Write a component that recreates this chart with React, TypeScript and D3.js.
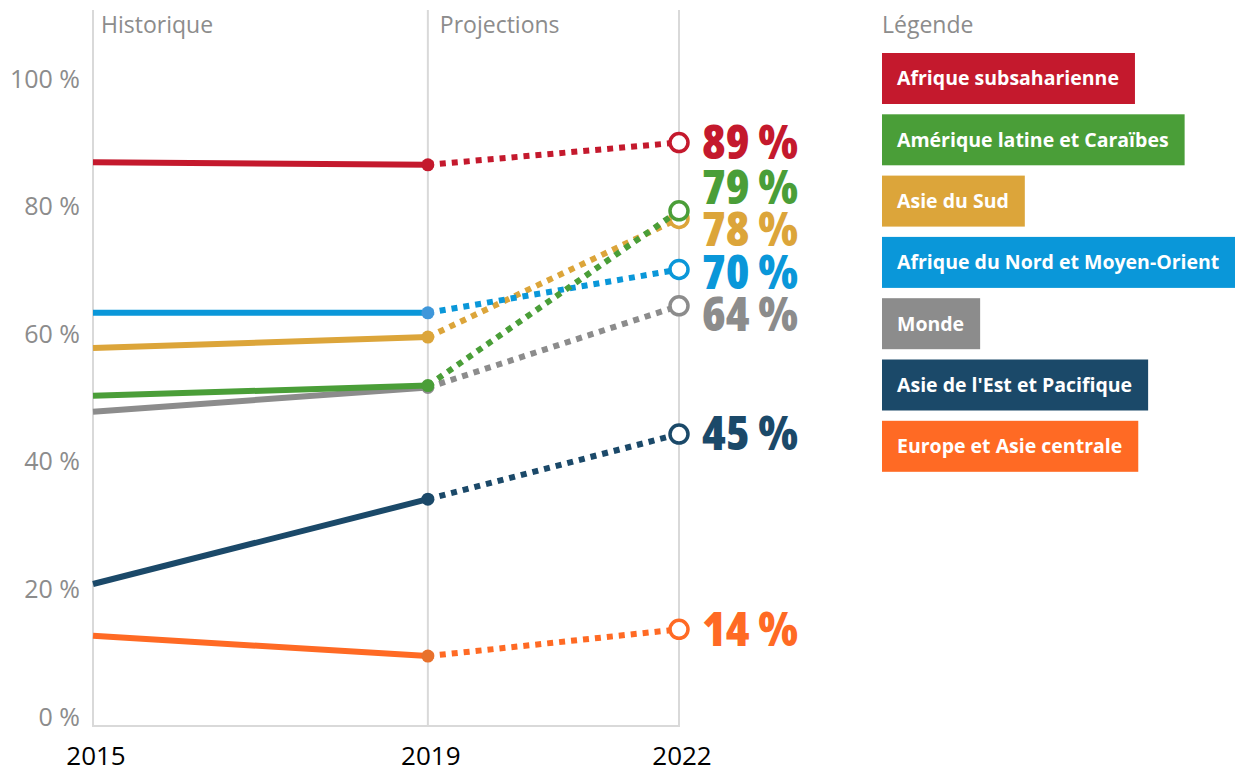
import React, { useRef, useEffect } from 'react';
import * as d3 from 'd3';

// regions, in legend order
const regions = [
  "Afrique subsaharienne",
  "Amérique latine et Caraïbes",
  "Asie du Sud",
  "Afrique du Nord et Moyen-Orient",
  "Monde",
  "Asie de l'Est et Pacifique",
  "Europe et Asie centrale",
];
const colors = ["#c4192d", "#4a9e38", "#dca53a", "#0a97d9", "#8c8c8c", "#1b4969", "#ff6a24"];
const markerColors = ["#c4192d", "#4a9e38", "#dca53a", "#3f97da", "#8c8c8c", "#1b4969", "#e8712c"];

const years = [2015, 2019, 2022];
// historical (2015, 2019) and projected (2022) values, in %
const values2015 = [87.1, 50.5, 58.0, 63.5, 48.0, 21.0, 12.9];
const values2019 = [86.7, 52.1, 59.7, 63.5, 51.8, 34.3, 9.7];
const values2022 = [90.2, 79.5, 78.3, 70.3, 64.6, 44.5, 13.9];
const labels2022 = ["89 %", "79 %", "78 %", "70 %", "64 %", "45 %", "14 %"];

const yTicks = [0, 20, 40, 60, 80, 100];
const periods = ["Historique", "Projections"];

// drawing order (bottom first)
const drawOrder = [4, 2, 3, 1, 0, 5, 6];

const condensed = "'Open Sans', 'Liberation Sans Narrow', 'DejaVu Sans Condensed', sans-serif";
const sans = "'Open Sans', 'Noto Sans', sans-serif";

export default function App() {
  const svgRef = useRef<SVGSVGElement>(null);

  useEffect(() => {
    const width = 1235;
    const height = 769;
    const svg = d3.select(svgRef.current!);
    svg.selectAll("*").remove();

    const x = d3.scaleLinear().domain([2015, 2022]).range([93, 679]);
    const y = d3.scaleLinear().domain([0, 100]).range([718, 80]);

    // grid / frame
    const grid = svg.append("g").attr("stroke", "#d9d9d9").attr("stroke-width", 2);
    grid.selectAll("line.v")
      .data(years)
      .join("line")
      .attr("x1", d => x(d)).attr("x2", d => x(d))
      .attr("y1", 10).attr("y2", 726);
    grid.append("line")
      .attr("x1", x(2015) - 1).attr("x2", x(2022) + 1)
      .attr("y1", 726).attr("y2", 726);

    // period labels
    svg.append("g")
      .selectAll("text")
      .data(periods)
      .join("text")
      .attr("x", (d, i) => x(years[i]) + (i === 0 ? 8 : 12))
      .attr("y", 33)
      .attr("font-family", sans)
      .attr("font-size", 23)
      .attr("fill", "#8c8c8c")
      .text(d => d);

    // y tick labels
    svg.append("g")
      .selectAll("text")
      .data(yTicks)
      .join("text")
      .attr("x", 80)
      .attr("y", d => y(d))
      .attr("dy", "0.3em")
      .attr("text-anchor", "end")
      .attr("font-family", sans)
      .attr("font-size", 25)
      .attr("fill", "#8c8c8c")
      .text(d => `${d} %`);

    // x labels
    svg.append("g")
      .selectAll("text")
      .data(years)
      .join("text")
      .attr("x", d => x(d) + 3)
      .attr("y", 765)
      .attr("text-anchor", "middle")
      .attr("font-family", sans)
      .attr("font-weight", 500)
      .attr("font-size", 26)
      .attr("fill", "#000")
      .text(d => d);

    const line = d3.line<[number, number]>().x(d => x(d[0])).y(d => y(d[1]));

    const series = svg.append("g");
    drawOrder.forEach(i => {
      const g = series.append("g");
      g.append("path")
        .attr("d", line([[2015, values2015[i]], [2019, values2019[i]]]))
        .attr("fill", "none")
        .attr("stroke", colors[i])
        .attr("stroke-width", 6);
      g.append("path")
        .attr("d", line([[2019, values2019[i]], [2022, values2022[i]]]))
        .attr("fill", "none")
        .attr("stroke", colors[i])
        .attr("stroke-width", 6)
        .attr("stroke-dasharray", "6 6");
      g.append("circle")
        .attr("cx", x(2019)).attr("cy", y(values2019[i]))
        .attr("r", 6.5)
        .attr("fill", markerColors[i]);
      g.append("circle")
        .attr("cx", x(2022)).attr("cy", y(values2022[i]))
        .attr("r", 9)
        .attr("fill", "#fff")
        .attr("stroke", colors[i])
        .attr("stroke-width", 3.5);
    });

    // end labels, dodged vertically
    const gap = 42.3;
    const order = d3.range(values2022.length).sort((a, b) => values2022[b] - values2022[a]);
    let clusters: { ids: number[]; top: number }[] = order.map(i => ({ ids: [i], top: y(values2022[i]) }));
    let moved = true;
    while (moved) {
      moved = false;
      for (let k = 0; k < clusters.length - 1; k++) {
        const a = clusters[k], b = clusters[k + 1];
        if (a.top + (a.ids.length - 1) * gap + gap > b.top) {
          const ids = a.ids.concat(b.ids);
          const mean = d3.mean(ids, (id, j) => y(values2022[id]) - j * gap)!;
          clusters.splice(k, 2, { ids, top: mean });
          moved = true;
          break;
        }
      }
    }
    const labelY: number[] = [];
    clusters.forEach(c => c.ids.forEach((id, j) => { labelY[id] = c.top + j * gap; }));

    svg.append("g")
      .selectAll("text")
      .data(labels2022)
      .join("text")
      .attr("x", x(2022) + 23)
      .attr("y", (d, i) => labelY[i])
      .attr("dy", "0.34em")
      .attr("font-family", condensed)
      .attr("font-stretch", "condensed")
      .attr("font-weight", 800)
      .attr("font-size", 48)
      .attr("fill", (d, i) => colors[i])
      .text(d => d);

    // legend
    const legend = svg.append("g").attr("transform", "translate(882,0)");
    legend.append("text")
      .attr("x", 0).attr("y", 33)
      .attr("font-family", sans)
      .attr("font-size", 23)
      .attr("fill", "#8c8c8c")
      .text("Légende");
    const items = legend.selectAll("g.item")
      .data(regions)
      .join("g")
      .attr("class", "item")
      .attr("transform", (d, i) => `translate(0,${53 + i * 61.3})`);
    items.append("rect")
      .attr("height", 51)
      .attr("fill", (d, i) => colors[i]);
    items.append("text")
      .attr("x", 15)
      .attr("y", 25.5)
      .attr("dy", "0.35em")
      .attr("font-family", sans)
      .attr("font-weight", 700)
      .attr("font-size", 19.5)
      .attr("fill", "#fff")
      .text(d => d);
    items.each(function () {
      const g = d3.select(this);
      const w = (g.select("text").node() as SVGTextElement).getComputedTextLength();
      g.select("rect").attr("width", w + 31);
    });

    svg.attr("width", width).attr("height", height);
  }, []);

  return (
    <svg ref={svgRef} style={{ position: 'absolute', left: 0, top: 0, background: '#fff' }} />
  );
}
